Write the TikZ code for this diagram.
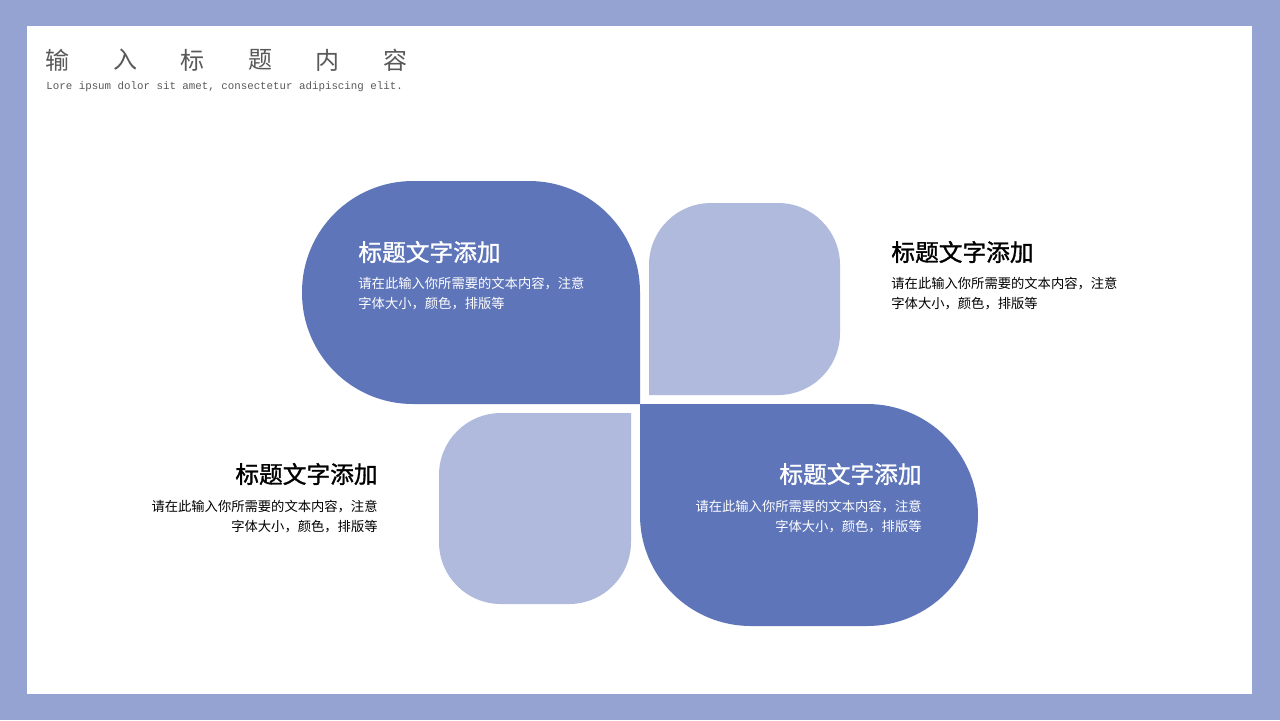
\documentclass[tikz,border=0pt]{standalone}
\usepackage{fontspec}
\newfontfamily\cjk{Noto Sans CJK SC}
\newfontfamily\cjkhead[FakeBold=1.2]{Noto Sans CJK SC}
\newfontfamily\monofnt{Liberation Mono}
\definecolor{frame}{HTML}{95A3D3}
\definecolor{darkblue}{HTML}{5E75B9}
\definecolor{lightblue}{HTML}{AFBADD}
\definecolor{headgrey}{HTML}{595959}
\tikzset{
  head/.style={inner sep=0pt, font=\cjkhead\fontsize{11.85pt}{14pt}\selectfont},
  body/.style={inner sep=0pt, font=\cjk\fontsize{6.65pt}{10pt}\selectfont},
}
\begin{document}
\begin{tikzpicture}[x=0.5pt,y=-0.5pt]
  \useasboundingbox (0,0) rectangle (1280,720);
  \fill[frame] (0,0) rectangle (1280,720);
  \fill[white] (27,26) rectangle (1252,694);
  % page title
  \foreach \c [count=\i] in {输,入,标,题,内,容}
    \node[inner sep=0pt, text=headgrey, font=\cjk\fontsize{12pt}{14pt}\selectfont]
      (t\i) at (58+67.4*\i-67.4,60) {\c};
  \node[inner sep=0pt, anchor=west, text=headgrey, font=\monofnt\fontsize{5.4pt}{6pt}\selectfont]
    (sub) at (46,87) {Lore ipsum dolor sit amet, consectetur adipiscing elit.};
  % petals
  \fill[darkblue] (640,404) [rounded corners=55.5pt] -- (302,404) -- (302,181) -- (640,181) -- (640,404);
  \fill[lightblue] (649,395) [rounded corners=31pt] -- (649,203) -- (840,203) -- (840,395) -- (649,395);
  \fill[lightblue] (631,413) [rounded corners=31pt] -- (631,604) -- (439,604) -- (439,413) -- (631,413);
  \fill[darkblue] (640,404) [rounded corners=55.5pt] -- (978,404) -- (978,626) -- (640,626) -- (640,404);
  % texts
  \node[head, anchor=west, text=white] (h1) at (358,252) {标题文字添加};
  \node[body, anchor=north west, align=left, text=white] (b1) at (358,277)
    {请在此输入你所需要的文本内容，注意\\字体大小，颜色，排版等};
  \node[head, anchor=west, text=black] (h2) at (891,252) {标题文字添加};
  \node[body, anchor=north west, align=left, text=black] (b2) at (891,277)
    {请在此输入你所需要的文本内容，注意\\字体大小，颜色，排版等};
  \node[head, anchor=east, text=black] (h3) at (378,474) {标题文字添加};
  \node[body, anchor=north east, align=right, text=black] (b3) at (378,500)
    {请在此输入你所需要的文本内容，注意\\字体大小，颜色，排版等};
  \node[head, anchor=east, text=white] (h4) at (922,474) {标题文字添加};
  \node[body, anchor=north east, align=right, text=white] (b4) at (922,500)
    {请在此输入你所需要的文本内容，注意\\字体大小，颜色，排版等};
\end{tikzpicture}
\end{document}
